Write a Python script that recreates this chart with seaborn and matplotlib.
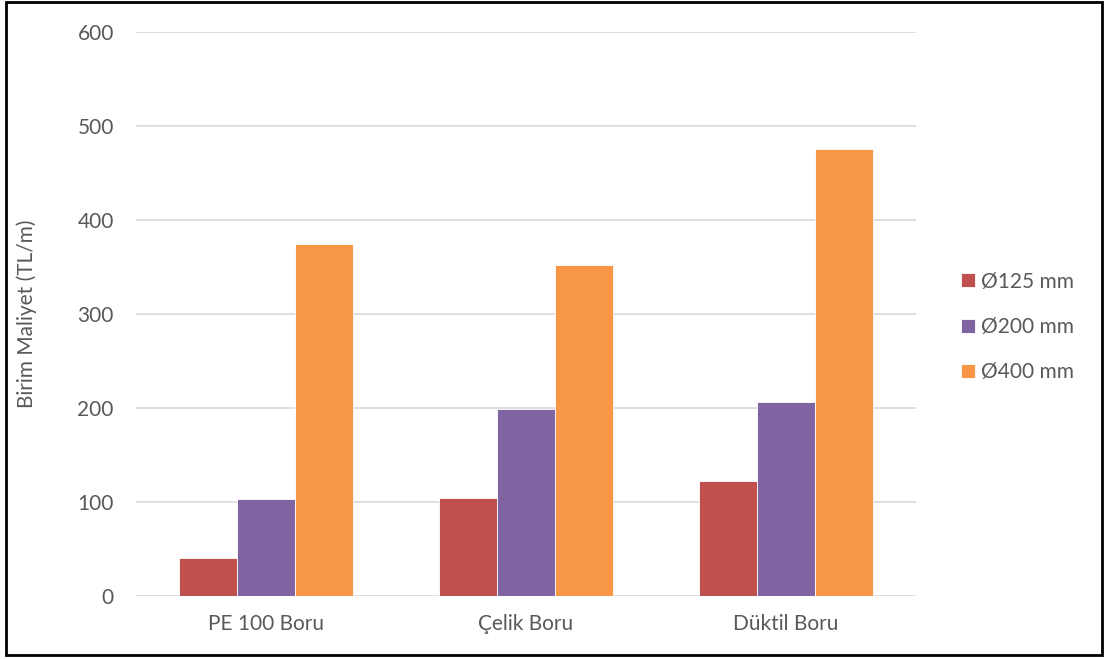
import matplotlib
matplotlib.use("Agg")
import matplotlib.pyplot as plt
import seaborn as sns
import pandas as pd
from matplotlib.patches import Rectangle

categories = ["PE 100 Boru", "Çelik Boru", "Düktil Boru"]
series_names = ["Ø125 mm", "Ø200 mm", "Ø400 mm"]
d125 = [40, 104, 122]
d200 = [103, 199, 206]
d400 = [375, 352, 476]
colors = ["#C0504D", "#8064A2", "#F79646"]
yticks = [0, 100, 200, 300, 400, 500, 600]

rows = []
for name, vals in zip(series_names, [d125, d200, d400]):
    for c, v in zip(categories, vals):
        rows.append({"Boru": c, "Çap": name, "Maliyet": v})
df = pd.DataFrame(rows)

sns.set_theme(style="white")
plt.rcParams["font.family"] = ["Lato", "DejaVu Sans"]

fig = plt.figure(figsize=(11.07, 6.59), dpi=100)
ax = fig.add_axes([136/1107, 1-596/659, 780/1107, 564/659])

sns.barplot(data=df, x="Boru", y="Maliyet", hue="Çap", order=categories,
            hue_order=series_names, palette=colors, saturation=1, width=0.67,
            edgecolor="white", linewidth=0.6, ax=ax, zorder=3)

ax.set_ylim(0, 600)
ax.set_xlim(-0.5, 2.5)
ax.set_yticks(yticks)
ax.yaxis.grid(True, color="#D9D9D9", linewidth=1.2, zorder=0)
ax.set_axisbelow(True)
for s in ax.spines.values():
    s.set_visible(False)
ax.tick_params(axis="both", length=0, labelsize=15, colors="#595959")
ax.tick_params(axis="y", pad=16)
ax.tick_params(axis="x", pad=13)
ax.set_xlabel("")
ax.set_ylabel("Birim Maliyet (TL/m)", fontsize=15, color="#595959")
ax.yaxis.set_label_coords(-0.127, 0.5)

leg = ax.legend(loc="center left", bbox_to_anchor=(961/1107, 1-327/659),
                bbox_transform=fig.transFigure, frameon=False, fontsize=15,
                handlelength=0.68, handleheight=0.68, handletextpad=0.3,
                labelspacing=1.22, borderpad=0, borderaxespad=0, title=None)
for t in leg.get_texts():
    t.set_color("#595959")

fig.patches.append(Rectangle((6/1107, 1-655/659), (1102-6)/1107, (655-2)/659,
                             transform=fig.transFigure, fill=False,
                             edgecolor="black", linewidth=2))

fig.savefig("out.png", dpi=100, facecolor="white")
